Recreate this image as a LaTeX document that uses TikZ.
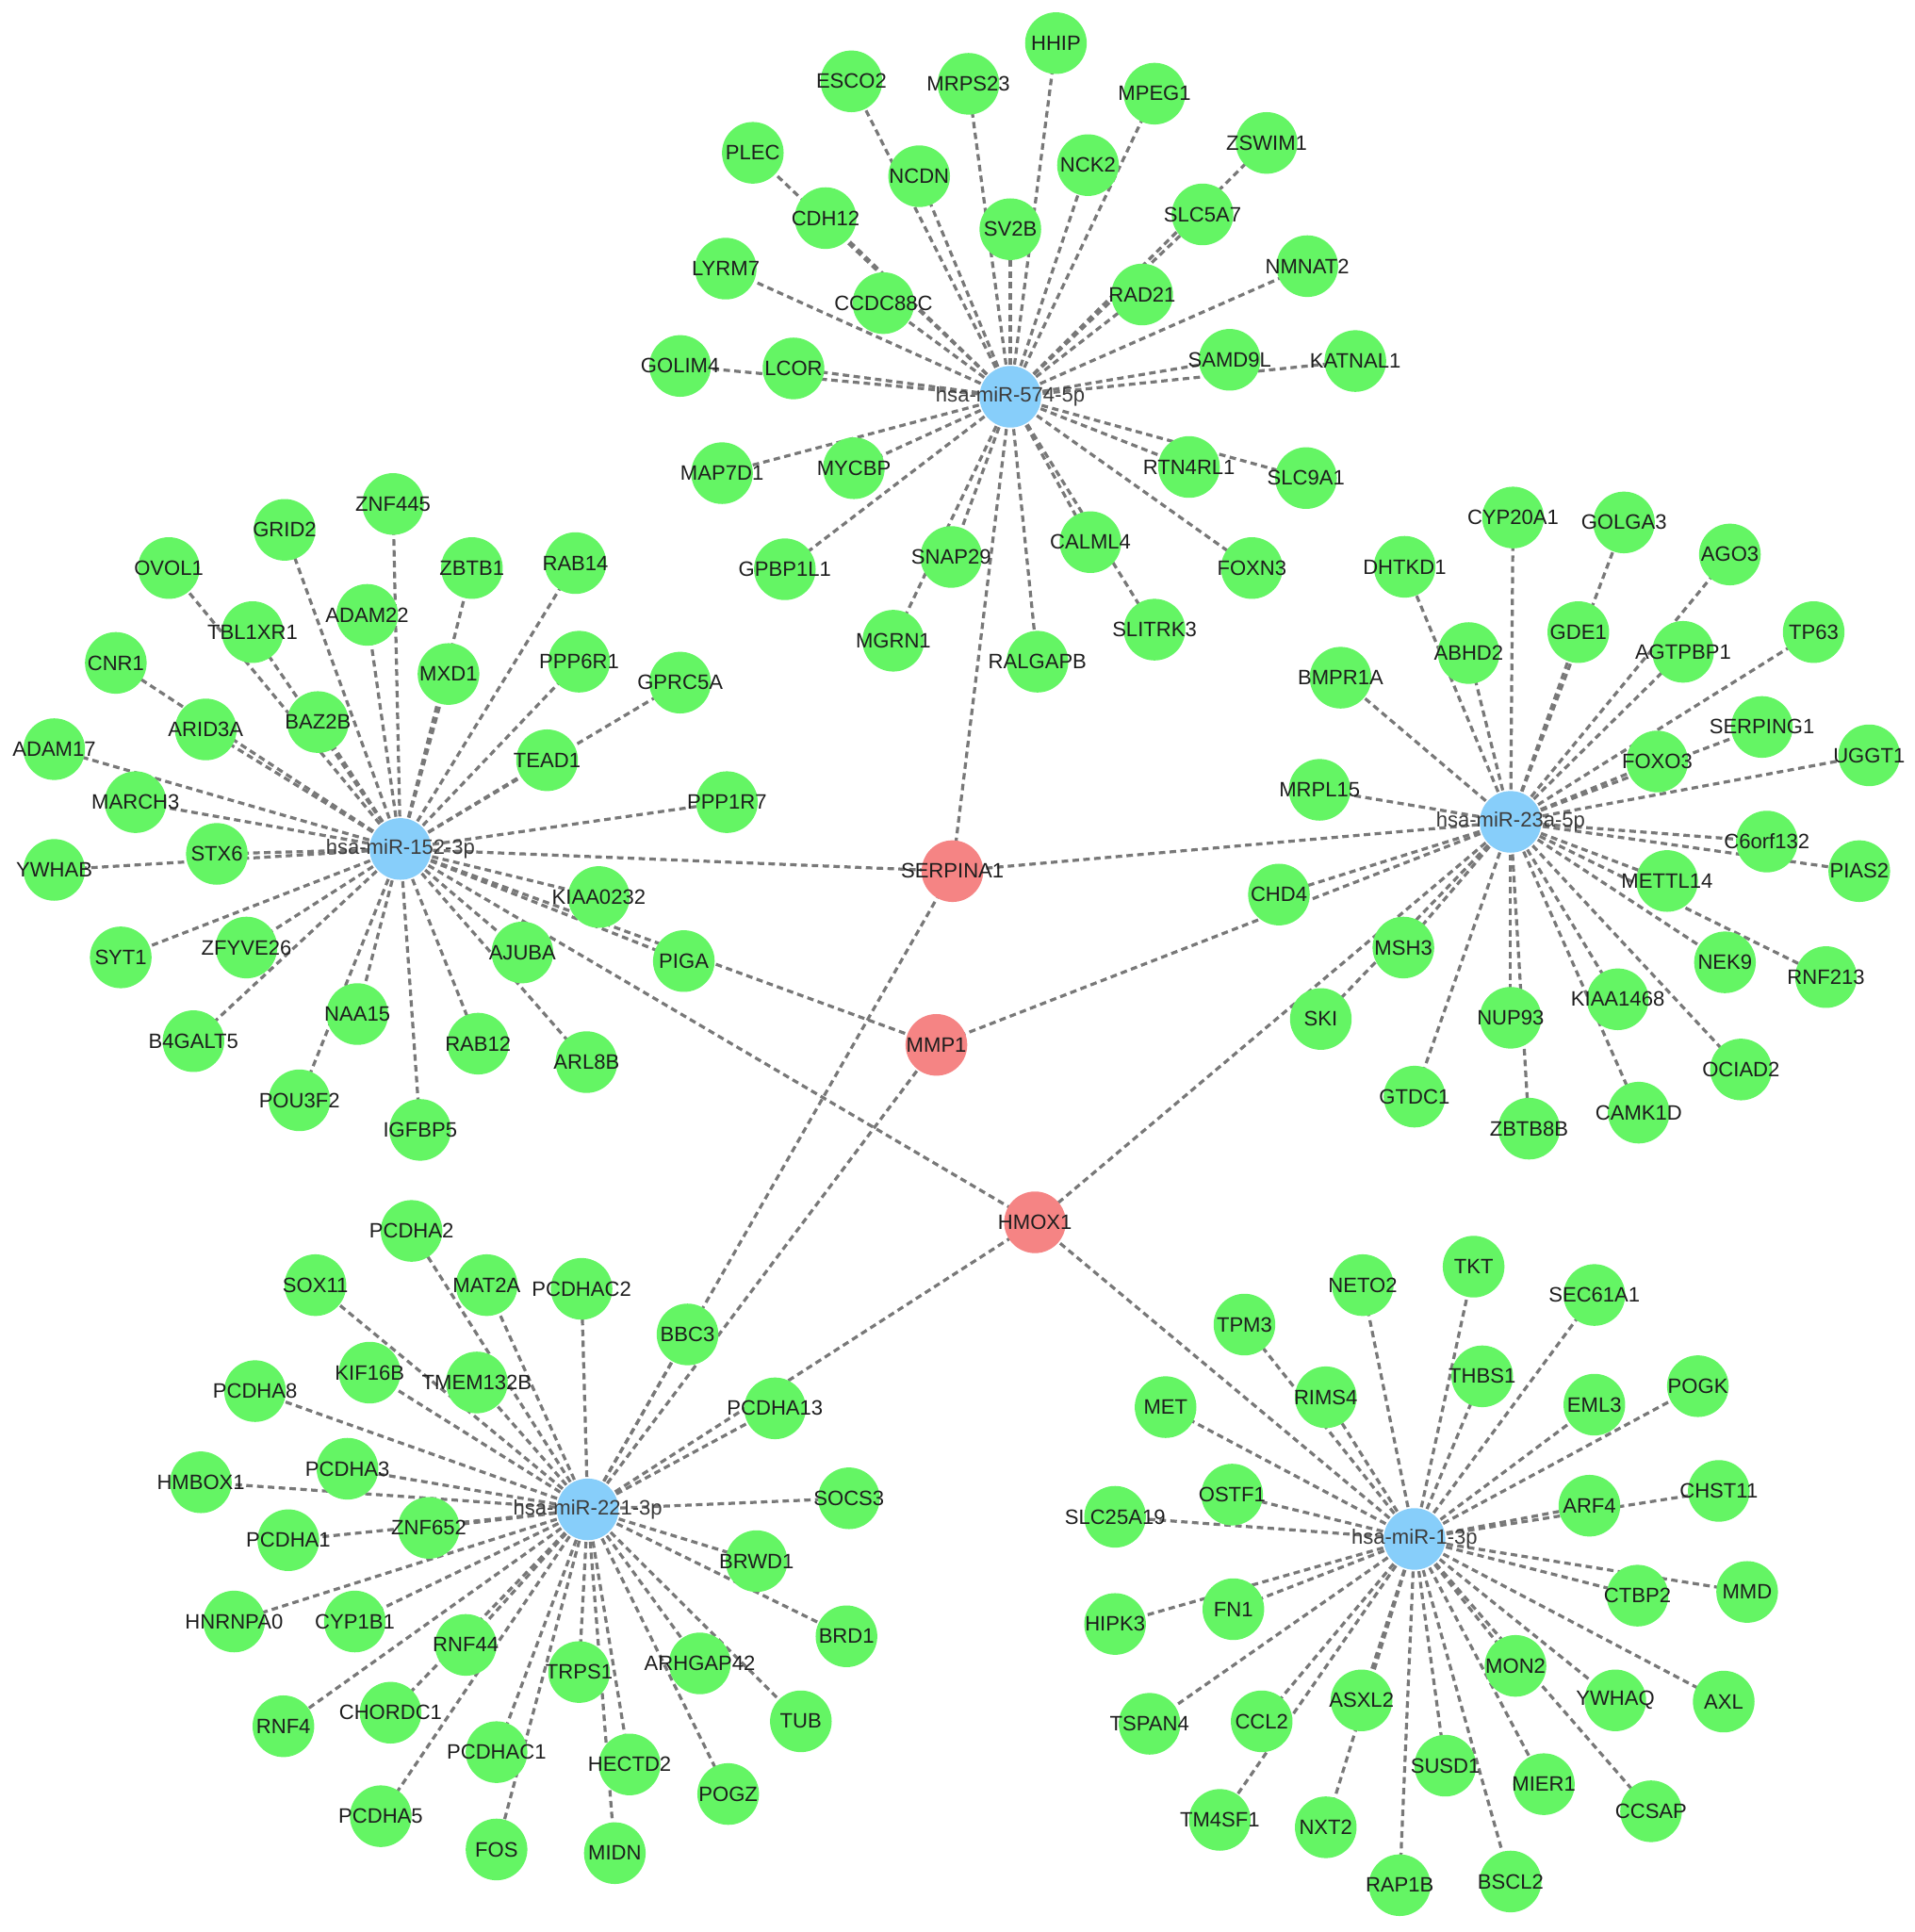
\documentclass[tikz,border=0pt]{standalone}
\usepackage{fontspec}
\setmainfont{Liberation Sans}
\usetikzlibrary{backgrounds}
\definecolor{gfill}{RGB}{100,245,100}
\definecolor{bfill}{RGB}{135,206,250}
\definecolor{rfill}{RGB}{245,132,132}
\definecolor{edgec}{RGB}{120,120,120}
\definecolor{txt}{RGB}{30,30,30}
\definecolor{htxt}{RGB}{60,60,60}
\tikzset{
  gene/.style={circle,fill=gfill,minimum size=0.5cm,inner sep=0pt,text=txt,font=\fontsize{4.8pt}{5.8pt}\selectfont},
  hub/.style={gene,fill=bfill,text=htxt},
  tgt/.style={gene,fill=rfill},
  edge/.style={draw=edgec,line width=0.7pt,dash pattern=on 1.5pt off 1pt}
}
\newcommand\gn[5][gene]{\node[#1] (#2) at (#3,#4) {\makebox[0pt]{#5}};}
\begin{document}
\begin{tikzpicture}[x=0.01cm,y=-0.01cm]
\useasboundingbox (0,0) rectangle (1554,1568);
% hubs and targets
\gn[hub]{ma}{820}{322}{hsa-miR-574-5p}
\gn[hub]{mb}{325}{689}{hsa-miR-152-3p}
\gn[hub]{mc}{1226}{667}{hsa-miR-23a-5p}
\gn[hub]{md}{477}{1225}{hsa-miR-221-3p}
\gn[hub]{me}{1148}{1249}{hsa-miR-1-3p}
\gn[tgt]{serpina1}{773}{707}{SERPINA1}
\gn[tgt]{mmp1}{760}{848}{MMP1}
\gn[tgt]{hmox1}{840}{992}{HMOX1}
% miR-574-5p
\gn{hhip}{857}{35}{HHIP}
\gn{esco2}{691}{66}{ESCO2}
\gn{mrps23}{786}{68}{MRPS23}
\gn{mpeg1}{937}{76}{MPEG1}
\gn{zswim1}{1028}{116}{ZSWIM1}
\gn{plec}{611}{124}{PLEC}
\gn{ncdn}{746}{143}{NCDN}
\gn{nck2}{883}{134}{NCK2}
\gn{cdh12}{670}{177}{CDH12}
\gn{sv2b}{820}{186}{SV2B}
\gn{slc5a7}{976}{174}{SLC5A7}
\gn{lyrm7}{589}{218}{LYRM7}
\gn{nmnat2}{1061}{216}{NMNAT2}
\gn{ccdc88c}{717}{246}{CCDC88C}
\gn{rad21}{927}{239}{RAD21}
\gn{golim4}{552}{297}{GOLIM4}
\gn{lcor}{644}{299}{LCOR}
\gn{samd9l}{998}{292}{SAMD9L}
\gn{katnal1}{1100}{293}{KATNAL1}
\gn{map7d1}{586}{384}{MAP7D1}
\gn{mycbp}{693}{380}{MYCBP}
\gn{rtn4rl1}{965}{379}{RTN4RL1}
\gn{slc9a1}{1060}{388}{SLC9A1}
\gn{gpbp1l1}{637}{462}{GPBP1L1}
\gn{snap29}{772}{452}{SNAP29}
\gn{calml4}{885}{440}{CALML4}
\gn{foxn3}{1016}{461}{FOXN3}
\gn{mgrn1}{725}{520}{MGRN1}
\gn{slitrk3}{937}{511}{SLITRK3}
\gn{ralgapb}{842}{537}{RALGAPB}
% miR-152-3p
\gn{znf445}{319}{409}{ZNF445}
\gn{grid2}{231}{430}{GRID2}
\gn{ovol1}{137}{461}{OVOL1}
\gn{zbtb1}{383}{461}{ZBTB1}
\gn{rab14}{467}{457}{RAB14}
\gn{adam22}{298}{499}{ADAM22}
\gn{tbl1xr1}{205}{513}{TBL1XR1}
\gn{cnr1}{94}{538}{CNR1}
\gn{mxd1}{364}{547}{MXD1}
\gn{ppp6r1}{470}{537}{PPP6R1}
\gn{gprc5a}{552}{554}{GPRC5A}
\gn{arid3a}{167}{592}{ARID3A}
\gn{baz2b}{258}{586}{BAZ2B}
\gn{adam17}{44}{608}{ADAM17}
\gn{tead1}{444}{617}{TEAD1}
\gn{march3}{110}{651}{MARCH3}
\gn{ppp1r7}{590}{651}{PPP1R7}
\gn{stx6}{176}{693}{STX6}
\gn{ywhab}{44}{706}{YWHAB}
\gn{kiaa0232}{486}{728}{KIAA0232}
\gn{syt1}{98}{777}{SYT1}
\gn{zfyve26}{200}{769}{ZFYVE26}
\gn{ajuba}{424}{773}{AJUBA}
\gn{piga}{555}{780}{PIGA}
\gn{naa15}{290}{823}{NAA15}
\gn{b4galt5}{157}{845}{B4GALT5}
\gn{rab12}{388}{847}{RAB12}
\gn{arl8b}{476}{862}{ARL8B}
\gn{pou3f2}{243}{893}{POU3F2}
\gn{igfbp5}{341}{917}{IGFBP5}
% miR-23a-5p
\gn{cyp20a1}{1228}{420}{CYP20A1}
\gn{golga3}{1318}{424}{GOLGA3}
\gn{ago3}{1404}{450}{AGO3}
\gn{dhtkd1}{1140}{460}{DHTKD1}
\gn{tp63}{1472}{513}{TP63}
\gn{abhd2}{1192}{530}{ABHD2}
\gn{gde1}{1281}{513}{GDE1}
\gn{agtpbp1}{1366}{529}{AGTPBP1}
\gn{bmpr1a}{1088}{550}{BMPR1A}
\gn{serping1}{1430}{590}{SERPING1}
\gn{uggt1}{1517}{613}{UGGT1}
\gn{foxo3}{1345}{618}{FOXO3}
\gn{mrpl15}{1071}{641}{MRPL15}
\gn{c6orf132}{1434}{683}{C6orf132}
\gn{pias2}{1509}{707}{PIAS2}
\gn{mettl14}{1353}{715}{METTL14}
\gn{chd4}{1038}{726}{CHD4}
\gn{msh3}{1139}{769}{MSH3}
\gn{nek9}{1400}{781}{NEK9}
\gn{rnf213}{1482}{793}{RNF213}
\gn{ski}{1072}{827}{SKI}
\gn{kiaa1468}{1313}{811}{KIAA1468}
\gn{nup93}{1226}{826}{NUP93}
\gn{ociad2}{1413}{868}{OCIAD2}
\gn{gtdc1}{1148}{890}{GTDC1}
\gn{zbtb8b}{1241}{916}{ZBTB8B}
\gn{camk1d}{1330}{903}{CAMK1D}
% miR-221-3p
\gn{pcdha2}{334}{999}{PCDHA2}
\gn{mat2a}{395}{1043}{MAT2A}
\gn{pcdhac2}{472}{1046}{PCDHAC2}
\gn{sox11}{256}{1043}{SOX11}
\gn{bbc3}{558}{1083}{BBC3}
\gn{kif16b}{300}{1114}{KIF16B}
\gn{tmem132b}{387}{1122}{TMEM132B}
\gn{pcdha8}{207}{1129}{PCDHA8}
\gn{pcdha13}{629}{1143}{PCDHA13}
\gn{pcdha3}{282}{1192}{PCDHA3}
\gn{hmbox1}{163}{1203}{HMBOX1}
\gn{socs3}{689}{1216}{SOCS3}
\gn{pcdha1}{234}{1250}{PCDHA1}
\gn{znf652}{348}{1240}{ZNF652}
\gn{brwd1}{614}{1267}{BRWD1}
\gn{hnrnpa0}{190}{1316}{HNRNPA0}
\gn{cyp1b1}{288}{1316}{CYP1B1}
\gn{brd1}{687}{1328}{BRD1}
\gn{rnf44}{378}{1335}{RNF44}
\gn{arhgap42}{568}{1350}{ARHGAP42}
\gn{trps1}{470}{1357}{TRPS1}
\gn{rnf4}{230}{1401}{RNF4}
\gn{chordc1}{317}{1390}{CHORDC1}
\gn{tub}{650}{1397}{TUB}
\gn{pcdhac1}{403}{1422}{PCDHAC1}
\gn{hectd2}{511}{1432}{HECTD2}
\gn{pogz}{591}{1456}{POGZ}
\gn{pcdha5}{309}{1474}{PCDHA5}
\gn{fos}{403}{1501}{FOS}
\gn{midn}{499}{1504}{MIDN}
% miR-1-3p
\gn{tkt}{1196}{1028}{TKT}
\gn{neto2}{1106}{1043}{NETO2}
\gn{sec61a1}{1294}{1051}{SEC61A1}
\gn{tpm3}{1010}{1075}{TPM3}
\gn{thbs1}{1203}{1117}{THBS1}
\gn{pogk}{1378}{1125}{POGK}
\gn{met}{946}{1142}{MET}
\gn{rims4}{1076}{1134}{RIMS4}
\gn{eml3}{1294}{1140}{EML3}
\gn{chst11}{1395}{1210}{CHST11}
\gn{ostf1}{1000}{1213}{OSTF1}
\gn{slc25a19}{905}{1231}{SLC25A19}
\gn{arf4}{1290}{1222}{ARF4}
\gn{hipk3}{905}{1318}{HIPK3}
\gn{fn1}{1001}{1306}{FN1}
\gn{ctbp2}{1329}{1295}{CTBP2}
\gn{mmd}{1418}{1292}{MMD}
\gn{mon2}{1230}{1352}{MON2}
\gn{tspan4}{933}{1399}{TSPAN4}
\gn{ccl2}{1024}{1397}{CCL2}
\gn{asxl2}{1105}{1380}{ASXL2}
\gn{ywhaq}{1311}{1380}{YWHAQ}
\gn{axl}{1399}{1381}{AXL}
\gn{susd1}{1173}{1433}{SUSD1}
\gn{mier1}{1253}{1448}{MIER1}
\gn{tm4sf1}{990}{1477}{TM4SF1}
\gn{nxt2}{1076}{1483}{NXT2}
\gn{ccsap}{1340}{1470}{CCSAP}
\gn{rap1b}{1136}{1530}{RAP1B}
\gn{bscl2}{1226}{1527}{BSCL2}
\begin{scope}[on background layer]
\foreach \n in {hhip,esco2,mrps23,mpeg1,zswim1,plec,ncdn,nck2,cdh12,sv2b,slc5a7,lyrm7,nmnat2,ccdc88c,rad21,golim4,lcor,samd9l,katnal1,map7d1,mycbp,rtn4rl1,slc9a1,gpbp1l1,snap29,calml4,foxn3,mgrn1,slitrk3,ralgapb,serpina1}
  \draw[edge] (ma.center) -- (\n.center);
\foreach \n in {znf445,grid2,ovol1,zbtb1,rab14,adam22,tbl1xr1,cnr1,mxd1,ppp6r1,gprc5a,arid3a,baz2b,adam17,tead1,march3,ppp1r7,stx6,ywhab,kiaa0232,syt1,zfyve26,ajuba,piga,naa15,b4galt5,rab12,arl8b,pou3f2,igfbp5,serpina1,mmp1,hmox1}
  \draw[edge] (mb.center) -- (\n.center);
\foreach \n in {cyp20a1,golga3,ago3,dhtkd1,tp63,abhd2,gde1,agtpbp1,bmpr1a,serping1,uggt1,foxo3,mrpl15,c6orf132,pias2,mettl14,chd4,msh3,nek9,rnf213,ski,kiaa1468,nup93,ociad2,gtdc1,zbtb8b,camk1d,serpina1,mmp1,hmox1}
  \draw[edge] (mc.center) -- (\n.center);
\foreach \n in {pcdha2,mat2a,pcdhac2,sox11,bbc3,kif16b,tmem132b,pcdha8,pcdha13,pcdha3,hmbox1,socs3,pcdha1,znf652,brwd1,hnrnpa0,cyp1b1,brd1,rnf44,arhgap42,trps1,rnf4,chordc1,tub,pcdhac1,hectd2,pogz,pcdha5,fos,midn,serpina1,mmp1,hmox1}
  \draw[edge] (md.center) -- (\n.center);
\foreach \n in {tkt,neto2,sec61a1,tpm3,thbs1,pogk,met,rims4,eml3,chst11,ostf1,slc25a19,arf4,hipk3,fn1,ctbp2,mmd,mon2,tspan4,ccl2,asxl2,ywhaq,axl,susd1,mier1,tm4sf1,nxt2,ccsap,rap1b,bscl2,hmox1}
  \draw[edge] (me.center) -- (\n.center);
\end{scope}
\end{tikzpicture}
\end{document}
